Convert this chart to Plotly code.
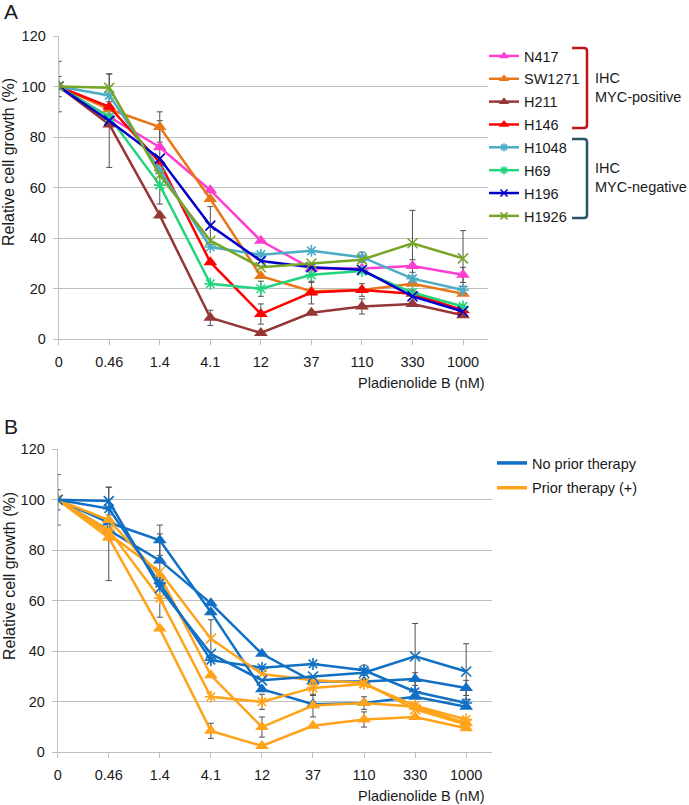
import plotly.graph_objects as go

W, H = 689, 805

doses = ["0", "0.46", "1.4", "4.1", "12", "37", "110", "330", "1000"]

n417 = [100, 88, 76, 59, 39, 28, 28, 29, 25.5]
sw1271 = [100, 91, 84, 55.5, 25, 19, 19.5, 22, 18]
h211 = [100, 85, 49, 8.5, 2.5, 10.5, 13, 14, 9.5]
h146 = [100, 92, 70, 30.5, 10, 18.5, 19.5, 18, 11.5]
h1048 = [100, 96.5, 67, 36.5, 33.5, 35, 32.5, 24, 19.5]
h69 = [100, 88, 61, 22, 20, 25.5, 27, 18.5, 13]
h196 = [100, 86.5, 71.5, 45, 31, 28.5, 27.5, 17, 11]
h1926 = [100, 99.5, 65, 39, 28.5, 30, 31.5, 38, 32]

# error bars (SD), None where no bar is visible
err_n417 = [None, None, None, None, None, None, None, 2.5, 3]
err_sw1271 = [None, None, 6, None, None, None, None, None, None]
err_h211 = [10, None, None, 3, None, None, 3, None, None]
err_h146 = [None, None, 16.5, None, 4, 4.5, 2.5, None, None]
err_h1048 = [None, None, None, None, None, None, 2, None, None]
err_h69 = [None, None, None, None, 3, 3, None, None, None]
err_h196 = [4, 18.5, None, 7.5, None, None, None, None, None]
err_h1926 = [None, 5.5, None, None, None, None, None, 13, 11]

names = ["N417", "SW1271", "H211", "H146", "H1048", "H69", "H196", "H1926"]
values = [n417, sw1271, h211, h146, h1048, h69, h196, h1926]
errors = [err_n417, err_sw1271, err_h211, err_h146, err_h1048, err_h69, err_h196, err_h1926]
colors_a = ["#ff3fd0", "#e8761a", "#953735", "#ff0000", "#4bacc6", "#22d47e", "#0000c8", "#77a528"]
symbols = ["triangle-up"] * 4 + ["asterisk-open", "asterisk-open", "x-thin-open", "x-thin-open"]
no_prior = [True, True, False, False, True, False, False, True]
legend_b = ["No prior therapy", "Prior therapy (+)"]

BLUE = "#1170c4"
ORANGE = "#ffa31a"
FONT = "Liberation Sans, Arial, sans-serif"
GRID = "#bfbfbf"
FS = 14.5


def pxx(x):
    return x / W


def pxy(y):
    return 1 - y / H


def marker(sym, col, size):
    if sym.startswith("triangle"):
        return dict(symbol=sym, size=size + 2, color=col, line=dict(width=0))
    return dict(symbol=sym, size=size, color=col, line=dict(width=1.6, color=col))


fig = go.Figure()

for panel, xa, ya in [("A", "x", "y"), ("B", "x2", "y2")]:
    # error bars underneath the series
    for vals, errs in zip(values, errors):
        fig.add_trace(go.Scatter(
            x=doses, y=[v if e is not None else None for v, e in zip(vals, errs)],
            mode="markers", marker=dict(size=1, color="rgba(0,0,0,0)"),
            error_y=dict(type="data", array=[e if e is not None else 0 for e in errs],
                         color="#505050", thickness=1, width=3),
            xaxis=xa, yaxis=ya, showlegend=False, hoverinfo="skip"))
    for name, vals, col, sym, nop in zip(names, values, colors_a, symbols, no_prior):
        c = col if panel == "A" else (BLUE if nop else ORANGE)
        fig.add_trace(go.Scatter(
            x=doses, y=vals, name=name, mode="lines+markers",
            line=dict(color=c, width=2.5), marker=marker(sym, c, 10),
            xaxis=xa, yaxis=ya, showlegend=False))

# legend entries (small markers like the original)
for name, col, sym in zip(names, colors_a, symbols):
    fig.add_trace(go.Scatter(x=[None], y=[None], name=name, mode="lines+markers",
                             line=dict(color=col, width=2.5), marker=marker(sym, col, 7),
                             legend="legend", legendgroup=name))
for name, col in zip(legend_b, [BLUE, ORANGE]):
    fig.add_trace(go.Scatter(x=[None], y=[None], mode="lines", name=name,
                             line=dict(color=col, width=3.5), xaxis="x2", yaxis="y2",
                             legend="legend2", legendgroup=name))

xcommon = dict(type="category", categoryorder="array", categoryarray=doses, range=[0, 8.5],
               showgrid=False, showline=True, linecolor=GRID, linewidth=1,
               ticks="outside", ticklen=5, tickcolor=GRID, ticklabelstandoff=4,
               tickfont=dict(size=FS, color="#1a1a1a"))
ycommon = dict(range=[0, 120], dtick=20, showgrid=True, gridcolor=GRID, gridwidth=1,
               zeroline=False, showline=True, linecolor=GRID, linewidth=1,
               ticks="outside", ticklen=5, tickcolor=GRID, ticklabelstandoff=4,
               tickfont=dict(size=FS, color="#1a1a1a"))

fig.update_layout(
    width=W, height=H, margin=dict(l=0, r=0, t=0, b=0, autoexpand=False),
    paper_bgcolor="white", plot_bgcolor="white",
    font=dict(family=FONT, size=FS, color="#1a1a1a"),
    xaxis=dict(domain=[pxx(58.7), pxx(488.3)], anchor="y", **xcommon),
    yaxis=dict(domain=[pxy(339.3), pxy(36)], anchor="x", **ycommon),
    xaxis2=dict(domain=[pxx(57.7), pxx(491.7)], anchor="y2", **xcommon),
    yaxis2=dict(domain=[pxy(752.3), pxy(449.3)], anchor="x2", **ycommon),
    legend=dict(x=pxx(484), y=pxy(40), xanchor="left", yanchor="top",
                font=dict(size=FS), itemwidth=30, tracegroupgap=1,
                traceorder="grouped", bgcolor="rgba(0,0,0,0)"),
    legend2=dict(x=pxx(492), y=pxy(447), xanchor="left", yanchor="top",
                 font=dict(size=FS), itemwidth=30, tracegroupgap=3,
                 traceorder="grouped", bgcolor="rgba(0,0,0,0)"),
    showlegend=True,
)

ann = []
ann.append(dict(text="A", x=pxx(2), y=pxy(12), xanchor="left", yanchor="middle", font=dict(size=21)))
ann.append(dict(text="B", x=pxx(2), y=pxy(426), xanchor="left", yanchor="middle", font=dict(size=21)))
for yc in (162, 576):
    ann.append(dict(text="Relative cell growth (%)", x=pxx(9), y=pxy(yc), textangle=-90,
                    xanchor="center", yanchor="middle", font=dict(size=16)))
for yc in (383, 796):
    ann.append(dict(text="Pladienolide B (nM)", x=pxx(487), y=pxy(yc),
                    xanchor="right", yanchor="middle", font=dict(size=FS)))
ann.append(dict(text="IHC<br>MYC-positive", x=pxx(593), y=pxy(88), xanchor="left",
                yanchor="middle", align="left", font=dict(size=FS)))
ann.append(dict(text="IHC<br>MYC-negative", x=pxx(593), y=pxy(177), xanchor="left",
                yanchor="middle", align="left", font=dict(size=FS)))
for a in ann:
    a.update(xref="paper", yref="paper", showarrow=False)
fig.update_layout(annotations=ann)


def bracket(x0, x1, y0, y1, col):
    r = 3
    path = (f"M {pxx(x0)} {pxy(y0)} L {pxx(x1 - r)} {pxy(y0)} Q {pxx(x1)} {pxy(y0)} {pxx(x1)} {pxy(y0 + r)} "
            f"L {pxx(x1)} {pxy(y1 - r)} Q {pxx(x1)} {pxy(y1)} {pxx(x1 - r)} {pxy(y1)} L {pxx(x0)} {pxy(y1)}")
    return dict(type="path", path=path, xref="paper", yref="paper",
                line=dict(color=col, width=2.5))


fig.update_layout(shapes=[bracket(572, 587, 48, 128, "#c0141c"),
                          bracket(572, 587, 139, 218, "#2a5566")])

# the page body has a default 8px margin; drop it so the figure fills the window
fig.write_html("out.html", config={"displayModeBar": False},
               post_script="document.body.style.margin='0px';")
